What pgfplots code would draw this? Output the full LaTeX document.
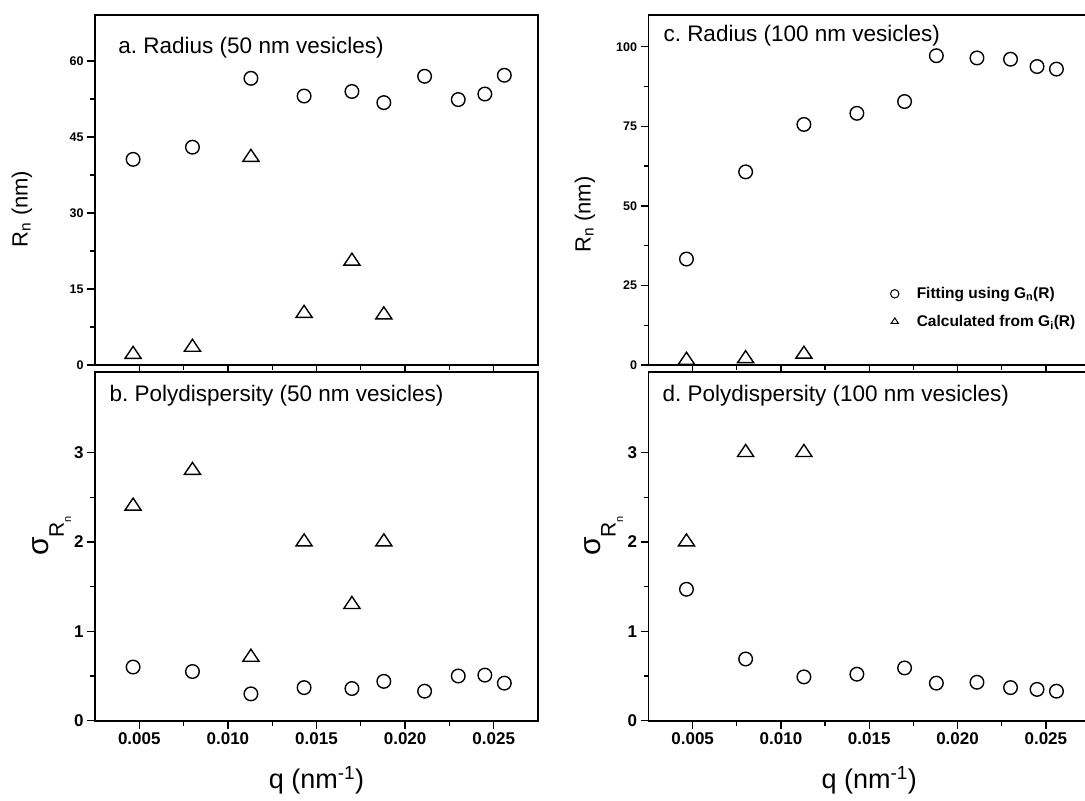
\documentclass[border=0pt]{standalone}
\usepackage{fontspec}
\setmainfont{Liberation Sans}
\usepackage{pgfplots}
\usepackage{pgfplotstable}
\pgfplotsset{compat=1.18}
\newcommand{\fs}[1]{\fontsize{#1}{#1}\selectfont}

\pgfplotstableread{
q a b c d
0.00465 40.6 0.60 33.3 1.47
0.0080 43.0 0.55 60.7 0.69
0.0113 56.6 0.30 75.6 0.49
0.0143 53.1 0.37 79.1 0.52
0.0170 54.0 0.36 82.8 0.59
0.0188 51.8 0.44 97.2 0.42
0.0211 57.0 0.33 96.5 0.43
0.0230 52.4 0.50 96.1 0.37
0.0245 53.5 0.51 93.8 0.35
0.0256 57.2 0.42 93.0 0.33
}\circdata

\pgfplotstableread{
q a b
0.00465 2.1 2.4
0.0080 3.5 2.8
0.0113 41.0 0.71
0.0143 10.2 2.0
0.0170 20.5 1.3
0.0188 9.9 2.0
}\tridataL

\pgfplotstableread{
q c d
0.00465 1.5 2.0
0.0080 2.0 3.0
0.0113 3.4 3.0
}\tridataR

\pgfplotsset{
  panel/.style={
    scale only axis, anchor=south west,
    xmin=0.0025, xmax=0.0275, ymin=0,
    xtick={0.005,0.01,0.015,0.02,0.025},
    scaled x ticks=false,
    minor x tick num=1, minor y tick num=1,
    tick align=outside, xtick pos=bottom, ytick pos=left,
    major tick length=8pt, minor tick length=5pt,
    every tick/.style={black, line width=1.3pt},
    axis line style={line width=1.6pt},
    /pgf/number format/assume math mode=true,
    tick label style={font=\bfseries\fs{17}},
  },
  toppanel/.style={panel, height=350pt, xticklabels={},
    yticklabel style={font=\bfseries\fs{12.5}},
    ylabel style={font=\fs{22}, anchor=center}},
  botpanel/.style={panel, height=348.7pt, ymax=3.9, ytick={0,1,2,3},
    xticklabels={0.005,0.010,0.015,0.020,0.025},
    xlabel={q (nm\textsuperscript{-1})},
    xlabel style={font=\fs{27}, at={(axis description cs:0.5,-0.17)}, anchor=center},
    ylabel={σ\raisebox{-0.5em}{\fs{21}R\raisebox{-0.35em}{\fs{11}n}}},
    ylabel style={font=\fs{30}, anchor=center}},
  circ/.style={only marks, mark=o, mark size=6.8pt, line width=1.4pt, black},
  tri/.style={only marks, mark=triangle, mark size=9.3pt, line width=1.4pt, black, mark options={yscale=0.86}},
}

\begin{document}
\begin{tikzpicture}
\useasboundingbox (0,0) rectangle (1085pt,801pt);

% a
\begin{axis}[toppanel, at={(95pt,436pt)}, width=443pt, ymax=69.1,
  ytick={0,15,30,45,60},
  ylabel={R\textsubscript{n} (nm)},
  ylabel style={at={(axis description cs:-0.165,0.446)}}]
\addplot[circ] table[x=q,y=a] {\circdata};
\addplot[tri] table[x=q,y=a] {\tridataL};
\node[anchor=base west, font=\fs{22.5}] at (rel axis cs:0.045,0.891) {a.\ Radius (50 nm vesicles)};
\end{axis}

% b
\begin{axis}[botpanel, at={(95pt,80.3pt)}, width=443pt,
  ylabel style={at={(axis description cs:-0.097,0.53)}}]
\addplot[circ] table[x=q,y=b] {\circdata};
\addplot[tri] table[x=q,y=b] {\tridataL};
\node[anchor=base west, font=\fs{22.5}] at (rel axis cs:0.025,0.915) {b.\ Polydispersity (50 nm vesicles)};
\end{axis}

% c
\begin{axis}[toppanel, at={(648.5pt,436pt)}, width=441.5pt, ymax=110,
  ytick={0,25,50,75,100},
  ylabel={R\textsubscript{n} (nm)},
  ylabel style={at={(axis description cs:-0.144,0.43)}},
  legend style={at={(rel axis cs:0.546,0.225)}, anchor=north west, draw=none, fill=none,
    font=\bfseries\fs{15.5}, row sep=13pt, inner sep=0pt, nodes={inner sep=1pt}},
  legend cell align=left,
  legend image code/.code={\draw[mark size=4.2pt, line width=1pt] plot coordinates {(0pt,0pt)}; \path[draw=none, fill=none] (-5pt,-4pt) rectangle (21pt,4pt);}]
\addplot[circ] table[x=q,y=c] {\circdata};
\addlegendentry{Fitting using G\textsubscript{n}(R)}
\addplot[tri] table[x=q,y=c] {\tridataR};
\addlegendentry{Calculated from G\textsubscript{i}(R)}
\node[anchor=base west, font=\fs{22.5}] at (rel axis cs:0.026,0.924) {c.\ Radius (100 nm vesicles)};
\end{axis}

% d
\begin{axis}[botpanel, at={(648.5pt,80.3pt)}, width=441.5pt,
  ylabel style={at={(axis description cs:-0.101,0.53)}}]
\addplot[circ] table[x=q,y=d] {\circdata};
\addplot[tri] table[x=q,y=d] {\tridataR};
\node[anchor=base west, font=\fs{22.5}] at (rel axis cs:0.024,0.915) {d.\ Polydispersity (100 nm vesicles)};
\end{axis}
\end{tikzpicture}
\end{document}
